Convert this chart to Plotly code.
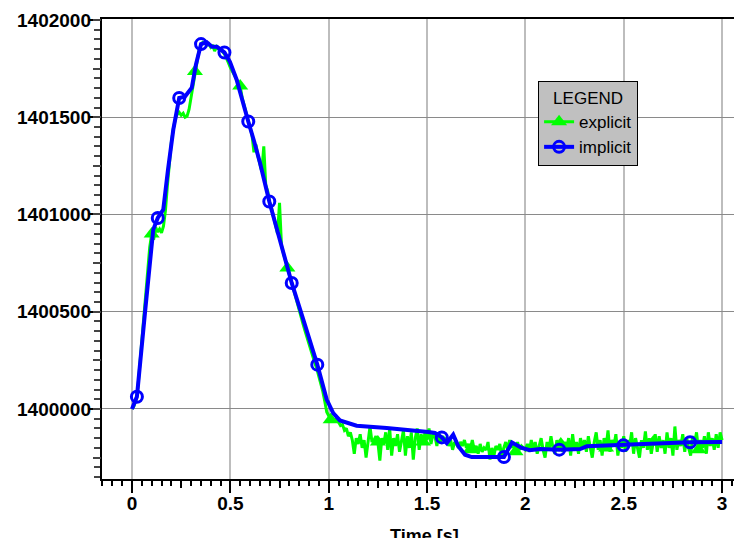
import plotly.graph_objects as go

# Explicit scheme: fixed step of 0.01 s
EXPLICIT_DT = 0.01
explicit_values = [
    1400000, 1400015, 1400045, 1400110, 1400230, 1400360, 1400480, 1400600, 1400720, 1400830,
    1400900, 1400870, 1400935, 1400910, 1400925, 1400905, 1400940, 1401020, 1401150, 1401270,
    1401370, 1401440, 1401490, 1401515, 1401525, 1401510, 1401520, 1401500, 1401505, 1401540,
    1401600, 1401680, 1401735, 1401790, 1401840, 1401870, 1401885, 1401880, 1401870, 1401878,
    1401860, 1401872, 1401840, 1401862, 1401850, 1401845, 1401838, 1401825, 1401805, 1401780,
    1401755, 1401735, 1401715, 1401700, 1401680, 1401660, 1401600, 1401560, 1401520, 1401480,
    1401440, 1401410, 1401320, 1401360, 1401300, 1401260, 1401220, 1401350, 1401150, 1401120,
    1401060, 1401030, 1400990, 1400950, 1400900, 1401060, 1400840, 1400800, 1400760, 1400725,
    1400695, 1400655, 1400620, 1400580, 1400545, 1400505, 1400470, 1400435, 1400400, 1400365,
    1400330, 1400300, 1400265, 1400235, 1400205, 1400170, 1400130, 1400090, 1400040, 1399985,
    1399965, 1399945, 1399950, 1399940, 1399950, 1399930, 1399915, 1399920, 1399890, 1399900,
    1399860, 1399880, 1399840, 1399770, 1399850, 1399820, 1399870, 1399800, 1399840, 1399750,
    1399820, 1399910, 1399830, 1399840, 1399860, 1399830, 1399735, 1399850, 1399820, 1399880,
    1399790, 1399900, 1399760, 1399850, 1399810, 1399870, 1399780, 1399840, 1399890, 1399760,
    1399860, 1399800, 1399880, 1399740, 1399850, 1399900, 1399790, 1399870, 1399830, 1399880,
    1399840, 1399900, 1399820, 1399870, 1399860, 1399810, 1399880, 1399830, 1399860, 1399840,
    1399850, 1399810, 1399840, 1399790, 1399830, 1399820, 1399800, 1399830, 1399810, 1399840,
    1399800, 1399820, 1399790, 1399840, 1399790, 1399810, 1399770, 1399820, 1399780, 1399800,
    1399790, 1399830, 1399740, 1399800, 1399760, 1399810, 1399790, 1399820, 1399750, 1399800,
    1399830, 1399790, 1399840, 1399800, 1399820, 1399780, 1399830, 1399790, 1399810, 1399800,
    1399790, 1399820, 1399780, 1399840, 1399790, 1399830, 1399770, 1399810, 1399850, 1399790,
    1399750, 1399830, 1399790, 1399860, 1399800, 1399770, 1399840, 1399790, 1399820, 1399780,
    1399830, 1399800, 1399850, 1399760, 1399870, 1399790, 1399830, 1399770, 1399850, 1399800,
    1399840, 1399780, 1399860, 1399800, 1399750, 1399830, 1399880, 1399790, 1399840, 1399760,
    1399850, 1399800, 1399890, 1399780, 1399840, 1399810, 1399870, 1399760, 1399830, 1399800,
    1399860, 1399780, 1399840, 1399810, 1399880, 1399770, 1399850, 1399800, 1399750, 1399840,
    1399800, 1399885, 1399790, 1399850, 1399770, 1399830, 1399870, 1399780, 1399860, 1399800,
    1399840, 1399770, 1399880, 1399800, 1399850, 1399760, 1399910, 1399790, 1399840, 1399810,
    1399870, 1399780, 1399850, 1399800, 1399760, 1399860, 1399820, 1399880, 1399790, 1399840,
    1399800, 1399860, 1399770, 1399880, 1399810, 1399850, 1399790, 1399870, 1399800, 1399880,
    1399840,
]
explicit_time = [round(i * EXPLICIT_DT, 2) for i in range(len(explicit_values))]
explicit_marker_idx = [10, 32, 55, 79, 101, 125, 148, 172, 195, 218, 241, 265, 288]

# Implicit scheme: adaptive step
implicit_time = [
    0.000, 0.025, 0.066, 0.108, 0.131, 0.159, 0.183, 0.210, 0.240, 0.269,
    0.304, 0.325, 0.351, 0.380, 0.407, 0.432, 0.470, 0.498, 0.532, 0.559,
    0.591, 0.620, 0.651, 0.698, 0.761, 0.812, 0.871, 0.942, 0.990, 1.023,
    1.057, 1.092, 1.142, 1.295, 1.447, 1.506, 1.540, 1.575, 1.600, 1.633,
    1.659, 1.693, 1.727, 1.891, 1.932, 1.981, 2.023, 2.074, 2.172, 2.278,
    2.312, 2.498, 2.600, 2.837, 3.000,
]
implicit_values = [
    1400000, 1400063, 1400495, 1400922, 1400982, 1401025, 1401230, 1401436, 1401599, 1401605,
    1401652, 1401770, 1401876, 1401885, 1401862, 1401862, 1401833, 1401785, 1401693, 1401590,
    1401478, 1401379, 1401265, 1401067, 1400836, 1400648, 1400459, 1400228, 1400048, 1399979,
    1399941, 1399928, 1399914, 1399902, 1399890, 1399882, 1399877, 1399854, 1399825, 1399868,
    1399808, 1399765, 1399753, 1399753, 1399828, 1399800, 1399788, 1399794, 1399791, 1399794,
    1399808, 1399813, 1399820, 1399829, 1399830,
]
implicit_marker_idx = [1, 4, 8, 12, 16, 20, 23, 25, 27, 37, 43, 48, 51, 53]

X_RANGE = [-0.1525, 3.0605]
Y_RANGE = [1399640, 1402005]

GREEN = "#00ff00"
BLUE = "#0000ff"
FONT = "Liberation Sans, Arial, sans-serif"

fig = go.Figure()

# explicit: line, sparse triangle markers
fig.add_trace(go.Scatter(
    x=explicit_time, y=explicit_values, mode="lines",
    line=dict(color=GREEN, width=3), showlegend=False, hoverinfo="skip",
))
fig.add_trace(go.Scatter(
    x=[explicit_time[i] for i in explicit_marker_idx],
    y=[explicit_values[i] for i in explicit_marker_idx],
    mode="markers", marker=dict(symbol="triangle-up", size=14, color=GREEN),
    showlegend=False,
))

# implicit: line, sparse open-circle markers
fig.add_trace(go.Scatter(
    x=implicit_time, y=implicit_values, mode="lines",
    line=dict(color=BLUE, width=4), showlegend=False, hoverinfo="skip",
))
fig.add_trace(go.Scatter(
    x=[implicit_time[i] for i in implicit_marker_idx],
    y=[implicit_values[i] for i in implicit_marker_idx],
    mode="markers",
    marker=dict(symbol="circle-open", size=11, color=BLUE, line=dict(width=3)),
    showlegend=False,
))

# legend entries
fig.add_trace(go.Scatter(
    x=[None], y=[None], mode="lines+markers", name="explicit",
    line=dict(color=GREEN, width=3),
    marker=dict(symbol="triangle-up", size=14, color=GREEN),
))
fig.add_trace(go.Scatter(
    x=[None], y=[None], mode="lines+markers", name="implicit",
    line=dict(color=BLUE, width=4),
    marker=dict(symbol="circle-open", size=11, color=BLUE, line=dict(width=3)),
))

# empty traces carrying the overlay axes (mid ticks, tick labels)
fig.add_trace(go.Scatter(x=[None], y=[None], xaxis="x2", yaxis="y2",
                         showlegend=False, hoverinfo="skip"))
fig.add_trace(go.Scatter(x=[None], y=[None], xaxis="x3", yaxis="y3",
                         showlegend=False, hoverinfo="skip"))

tick_font = dict(family=FONT, size=19, color="black", weight="bold")
hidden = dict(showgrid=False, zeroline=False, showline=False)

fig.update_layout(
    width=734, height=538,
    margin=dict(l=102, r=0, t=19, b=59, pad=0),
    paper_bgcolor="white", plot_bgcolor="white",
    showlegend=True,
    legend=dict(
        x=0.690, y=0.865, xanchor="left", yanchor="top",
        bgcolor="#c0c0c0", bordercolor="black", borderwidth=1,
        font=dict(family=FONT, size=17, color="black"),
        title=dict(text="LEGEND", side="top center",
                   font=dict(family=FONT, size=17, color="black")),
        tracegroupgap=0,
    ),
    # main axes: frame, grid, major and minor ticks
    xaxis=dict(
        range=X_RANGE, dtick=0.5, tick0=0,
        showgrid=True, gridcolor="#bdbdbd", gridwidth=2,
        zeroline=False, showline=True, linecolor="black", linewidth=1.5,
        mirror=True, ticks="outside", ticklen=12, tickwidth=1.5, tickcolor="black",
        showticklabels=False,
        minor=dict(dtick=0.05, tick0=0, ticks="outside", ticklen=5,
                   tickwidth=1.5, tickcolor="black", showgrid=False),
    ),
    yaxis=dict(
        range=Y_RANGE, dtick=500, tick0=1400000,
        showgrid=True, gridcolor="#8a8a8a", gridwidth=1,
        zeroline=False, showline=True, linecolor="black", linewidth=1.5,
        mirror=False, ticks="outside", ticklen=11, tickwidth=1.5, tickcolor="black",
        showticklabels=False,
        minor=dict(dtick=50, tick0=0, ticks="outside", ticklen=6,
                   tickwidth=1.5, tickcolor="#444", showgrid=False),
    ),
    # longer mid ticks every 0.25 s and every 250
    xaxis2=dict(
        range=X_RANGE, overlaying="x", anchor="y", side="bottom",
        dtick=0.25, tick0=0, ticks="outside", ticklen=8, tickwidth=1.5,
        tickcolor="black", showticklabels=False, **hidden,
    ),
    yaxis2=dict(
        range=Y_RANGE, overlaying="y", anchor="x", side="left",
        dtick=250, tick0=1400000, ticks="outside", ticklen=8, tickwidth=1.5,
        tickcolor="#444", showticklabels=False, **hidden,
    ),
    # tick labels
    xaxis3=dict(
        range=X_RANGE, overlaying="x", anchor="y", side="bottom",
        dtick=0.5, tick0=0, ticks="", tickfont=tick_font,
        ticklabelstandoff=11, **hidden,
    ),
    yaxis3=dict(
        range=Y_RANGE, overlaying="y", anchor="x", side="left",
        dtick=500, tick0=1400000, tickformat="d", ticks="",
        tickfont=tick_font, ticklabelstandoff=10, **hidden,
    ),
    annotations=[dict(
        text="Time [s]", xref="paper", yref="paper", x=0.511, y=0,
        xanchor="center", yanchor="top", yshift=-45, showarrow=False,
        font=dict(family=FONT, size=18, color="black", weight="bold"),
    )],
)

fig.write_html("out.html")
